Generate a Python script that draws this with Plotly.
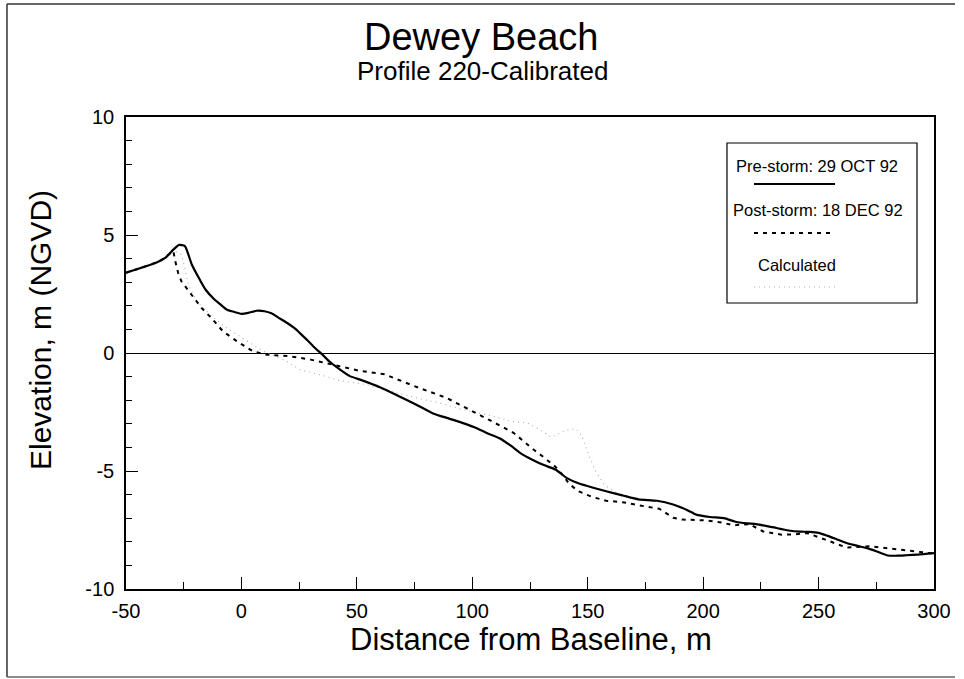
import plotly.graph_objects as go

# ---------------- data ----------------
pre_x = [-50, -45, -40, -37, -33, -29.5, -27, -24.5, -21.5, -18, -15.5, -12, -9, -6, -3, 0, 3, 6.5, 10, 13,
         16, 20, 23, 26, 29, 32, 35, 38, 42, 47, 52, 60, 68, 76, 83, 90, 96, 101, 106, 112,
         117, 121, 126, 131, 136, 141, 146, 152, 158, 165, 172, 180, 187, 193, 197, 203, 209, 214, 219, 223,
         230, 237, 242, 246, 250, 254, 258, 262, 266, 271, 275, 280, 284, 288, 293, 300]
pre_y = [3.40, 3.56, 3.72, 3.82, 4.03, 4.38, 4.58, 4.53, 3.75, 3.10, 2.68, 2.30, 2.05, 1.82, 1.74, 1.66, 1.70, 1.79, 1.77, 1.68,
         1.50, 1.26, 1.05, 0.78, 0.50, 0.20, -0.06, -0.35, -0.65, -0.98, -1.15, -1.45, -1.82, -2.20, -2.56, -2.78, -2.97, -3.15, -3.38, -3.62,
         -3.95, -4.25, -4.52, -4.75, -4.94, -5.30, -5.52, -5.70, -5.86, -6.03, -6.20, -6.26, -6.42, -6.65, -6.85, -6.95, -7.00, -7.15, -7.22, -7.25,
         -7.38, -7.52, -7.57, -7.58, -7.62, -7.75, -7.90, -8.05, -8.15, -8.27, -8.40, -8.58, -8.59, -8.57, -8.54, -8.48]

post_x = [-50, -45, -40, -35, -31, -29.5, -28.8, -27.4, -26, -21.6, -17.3, -13, -8, -2, 5, 11, 21, 30, 40, 51,
          62, 74, 89, 99, 108, 118, 126, 131, 136, 139, 142, 146, 152, 158, 165, 172, 181, 187, 191, 201,
          208, 213, 217, 220, 226, 234, 240, 245, 253, 262, 267, 272, 285, 293, 300]
post_y = [3.40, 3.56, 3.72, 3.92, 4.22, 4.32, 3.95, 3.39, 3.04, 2.47, 1.91, 1.48, 0.92, 0.50, 0.07, -0.07, -0.14, -0.28, -0.49, -0.75,
          -0.90, -1.37, -1.91, -2.40, -2.87, -3.39, -4.05, -4.42, -4.82, -5.15, -5.55, -5.86, -6.10, -6.26, -6.32, -6.45, -6.60, -6.98, -7.06, -7.09,
          -7.18, -7.30, -7.27, -7.25, -7.56, -7.70, -7.68, -7.63, -7.91, -8.24, -8.22, -8.19, -8.33, -8.42, -8.50]

calc_x = [-50, -45, -40, -35, -31, -28.8, -26, -24.5, -23, -19.4, -13.6, -6.4, 2.3, 9.5, 19.6, 25.3, 34, 42.6, 54.2, 67.2,
          76, 86, 96, 106, 117.7, 124, 128, 134.3, 140, 144.8, 147.3, 150.9, 153.5, 157.4, 163.9, 172, 180, 187, 193, 197,
          203, 209, 214, 219, 223, 230, 237, 242, 246, 250, 254, 258, 262, 266, 271, 275, 280, 284, 288, 293, 300]
calc_y = [3.40, 3.56, 3.72, 3.92, 4.22, 4.31, 4.17, 3.60, 2.89, 2.19, 1.62, 1.06, 0.50, 0.07, -0.35, -0.71, -0.92, -1.17, -1.34, -1.69,
          -1.91, -2.12, -2.40, -2.61, -2.90, -2.97, -3.18, -3.57, -3.29, -3.21, -3.49, -4.42, -5.01, -5.61, -6.00, -6.20, -6.26, -6.42, -6.65, -6.85,
          -6.95, -7.00, -7.15, -7.22, -7.25, -7.38, -7.52, -7.57, -7.58, -7.62, -7.75, -7.90, -8.05, -8.15, -8.27, -8.40, -8.58, -8.59, -8.57, -8.54, -8.48]

x_ticks = [-50, 0, 50, 100, 150, 200, 250, 300]
x_tick_labels = ["-50", "0", "50", "100", "150", "200", "250", "300"]
y_ticks = [-10, -5, 0, 5, 10]
y_tick_labels = ["-10", "-5", "0", "5", "10"]

legend_labels = ["Pre-storm: 29 OCT 92", "Post-storm: 18 DEC 92", "Calculated"]
title_text = "Dewey Beach"
subtitle_text = "Profile 220-Calibrated"
x_title = "Distance from Baseline, m"
y_title = "Elevation, m (NGVD)"

# ---------------- layout helpers ----------------
W, H = 964, 679
L, R, T, B = 126, 934, 117, 589
FONT = "Liberation Sans, Arial, Helvetica, sans-serif"


def px(xp):
    return (xp - L) / (R - L)


def py(yp):
    return (B - yp) / (B - T)


fig = go.Figure()

fig.add_trace(go.Scatter(x=calc_x, y=calc_y, mode="lines",
                         line=dict(color="#ababab", width=1.1, dash="1px,4px"),
                         name=legend_labels[2], showlegend=False))
fig.add_trace(go.Scatter(x=post_x, y=post_y, mode="lines",
                         line=dict(color="black", width=2, dash="4px,5px"),
                         name=legend_labels[1], showlegend=False))
fig.add_trace(go.Scatter(x=pre_x, y=pre_y, mode="lines", line_shape="spline",
                         line=dict(color="black", width=2.2, smoothing=0.6),
                         name=legend_labels[0], showlegend=False))

axis_common = dict(showgrid=False, showline=True, linecolor="black", linewidth=1.5, mirror=True,
                   ticks="inside", tickcolor="black", ticklen=12, tickwidth=1,
                   tickfont=dict(family=FONT, size=20, color="black"))

fig.update_xaxes(range=[-50, 300], tickvals=x_ticks, ticktext=x_tick_labels, zeroline=False,
                 minor=dict(dtick=25, ticks="inside", ticklen=7, tickcolor="black", tickwidth=1),
                 ticklabelstandoff=3,
                 **axis_common)
fig.update_yaxes(range=[-10, 10], tickvals=y_ticks, ticktext=y_tick_labels, zeroline=True,
                 zerolinecolor="black", zerolinewidth=1.2,
                 minor=dict(dtick=1, ticks="inside", ticklen=6, tickcolor="black", tickwidth=1),
                 ticklabelstandoff=6,
                 **axis_common)

shapes = []
# outer frame (left, top, bottom)
shapes.append(dict(type="line", xref="paper", yref="paper", x0=px(7), x1=px(955), y0=py(4), y1=py(4),
                   line=dict(color="#333", width=1.5)))
shapes.append(dict(type="line", xref="paper", yref="paper", x0=px(7), x1=px(7), y0=py(4), y1=py(677),
                   line=dict(color="#333", width=1.5)))
shapes.append(dict(type="line", xref="paper", yref="paper", x0=px(7), x1=px(955), y0=py(677), y1=py(677),
                   line=dict(color="#666", width=1.5)))
# legend box
shapes.append(dict(type="rect", xref="paper", yref="paper", x0=px(727), x1=px(917), y0=py(303), y1=py(143),
                   line=dict(color="black", width=1.2), fillcolor="white", layer="above"))
# legend samples
sample_y = [184, 233, 287]
sample_styles = [dict(color="black", width=2),
                 dict(color="black", width=1.8, dash="4px,5px"),
                 dict(color="#ababab", width=1.1, dash="1px,4px")]
for yy, st in zip(sample_y, sample_styles):
    shapes.append(dict(type="line", xref="paper", yref="paper", x0=px(754), x1=px(835), y0=py(yy), y1=py(yy),
                       line=st, layer="above"))

annotations = []
text_y = [166, 210, 265]
text_x = [817, 818, 797]
for t, xx, yy in zip(legend_labels, text_x, text_y):
    annotations.append(dict(text=t, xref="paper", yref="paper", x=px(xx), y=py(yy), showarrow=False,
                            xanchor="center", yanchor="middle", font=dict(family=FONT, size=16.5, color="black")))
annotations.append(dict(text=title_text, xref="paper", yref="paper", x=px(481), y=py(37), showarrow=False,
                        xanchor="center", yanchor="middle", font=dict(family=FONT, size=38, color="black")))
annotations.append(dict(text=subtitle_text, xref="paper", yref="paper", x=px(482), y=py(71), showarrow=False,
                        xanchor="center", yanchor="middle", font=dict(family=FONT, size=26, color="black")))
# axis titles
annotations.append(dict(text=x_title, xref="paper", yref="paper", x=px(531), y=py(639), showarrow=False,
                        xanchor="center", yanchor="middle", font=dict(family=FONT, size=31, color="black")))
annotations.append(dict(text=y_title, xref="paper", yref="paper", x=px(40), y=py(330), showarrow=False,
                        textangle=-90, xanchor="center", yanchor="middle",
                        font=dict(family=FONT, size=30, color="black")))

fig.update_layout(width=W, height=H, margin=dict(l=L, r=W - R, t=T, b=H - B, autoexpand=False),
                  paper_bgcolor="white", plot_bgcolor="white", showlegend=False,
                  shapes=shapes, annotations=annotations, font=dict(family=FONT, color="black"))

fig.write_html("out.html", config={"displayModeBar": False},
               post_script="document.body.style.margin='0';document.body.style.overflow='hidden';")
